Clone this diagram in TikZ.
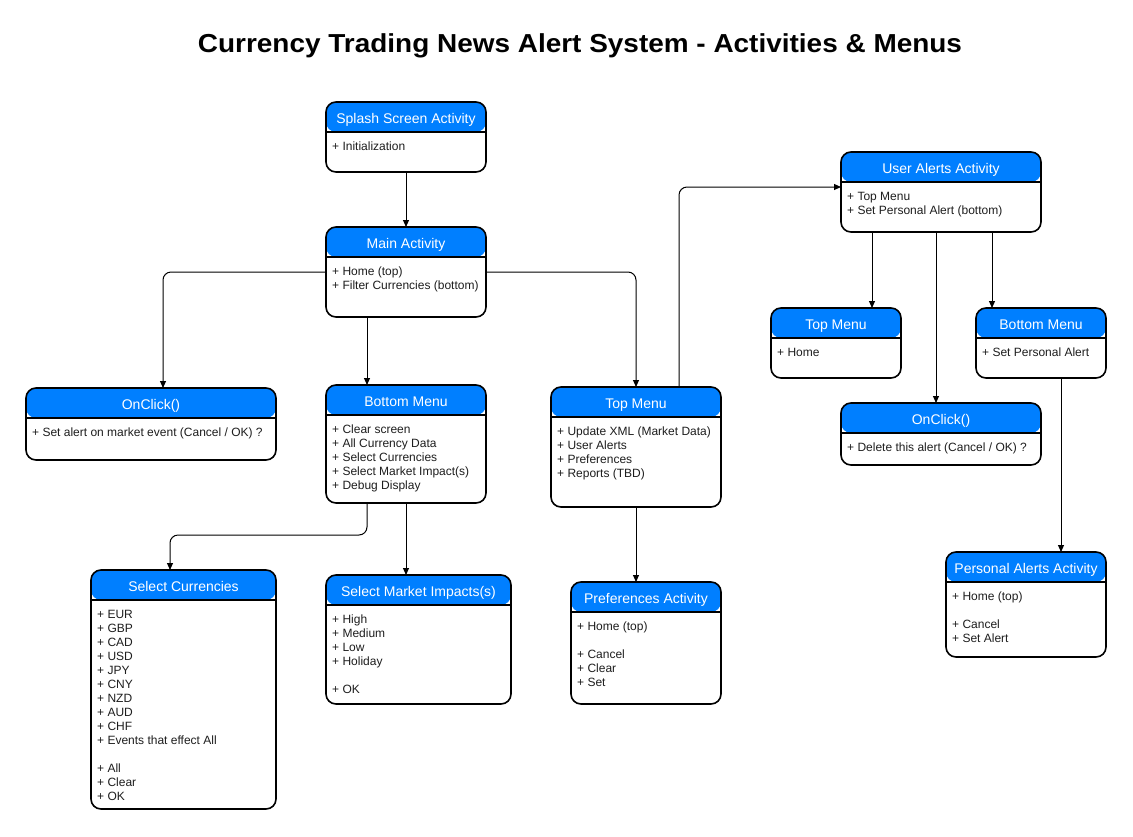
\documentclass[tikz,border=0pt]{standalone}
\usepackage{fontspec}
\usepackage{graphicx}
\setmainfont{Liberation Sans}
\usetikzlibrary{arrows.meta,calc}
\definecolor{hdrblue}{RGB}{0,127,255}
\definecolor{bodytext}{RGB}{30,30,30}
\tikzset{
  umlbox/.style={draw=black, line width=1.6pt, fill=white, rounded corners=10pt,
    inner sep=0pt, outer sep=0pt,
    path picture={
      \fill[hdrblue] (path picture bounding box.north west) rectangle ([yshift=-30pt]path picture bounding box.north east);
      \draw[line width=1.6pt] ([yshift=-30pt]path picture bounding box.north west) -- ([yshift=-30pt]path picture bounding box.north east);
    }},
  hdrtext/.style={text=white, font=\fontsize{14}{16}\selectfont, inner sep=0pt, anchor=base},
  bodytxt/.style={text=bodytext, font=\fontsize{12}{14}\selectfont, align=left, inner sep=0pt, anchor=north west},
  conn/.style={draw=black, line width=1pt, rounded corners=8pt, -{Triangle[length=7pt,width=6pt]}},
}
\newcommand\umlnode[7]{%
  \node[umlbox, minimum width={#4-#2}, minimum height={#5-#3}] (#1) at ({(#2+#4)/2},{(#3+#5)/2}) {};
  \node[hdrtext] (#1-h) at ({(#2+#4)/2},{#3+21}) {#6};
  \node[bodytxt] (#1-b) at ({#2+6},{#3+40}) {#7};
}
\begin{document}
\begin{tikzpicture}[x=1pt,y=-1pt]
\useasboundingbox (0,0) rectangle (1133,836);
\node[font=\fontsize{26}{30}\selectfont\bfseries, inner sep=0pt] (title) at (580,46) {\scalebox{1.075}[1]{Currency Trading News Alert System - Activities \& Menus}};

\umlnode{splash}{326}{102}{486}{172}{Splash Screen Activity}{+ Initialization}
\umlnode{main}{326}{227}{486}{317}{Main Activity}{+ Home (top)\\+ Filter Currencies (bottom)}
\umlnode{onclick}{26}{388}{276}{460}{OnClick()}{+ Set alert on market event (Cancel / OK) ?}
\umlnode{bmenu}{326}{385}{486}{503}{Bottom Menu}{+ Clear screen\\+ All Currency Data\\+ Select Currencies\\+ Select Market Impact(s)\\+ Debug Display}
\umlnode{tmenu}{551}{387}{721}{507}{Top Menu}{+ Update XML (Market Data)\\+ User Alerts\\+ Preferences\\+ Reports (TBD)}
\umlnode{selcur}{91}{570}{276}{809}{Select Currencies}{+ EUR\\+ GBP\\+ CAD\\+ USD\\+ JPY\\+ CNY\\+ NZD\\+ AUD\\+ CHF\\+ Events that effect All\\[14pt]+ All\\+ Clear\\+ OK}
\umlnode{selmkt}{326}{575}{511}{704}{Select Market Impacts(s)}{+ High\\+ Medium\\+ Low\\+ Holiday\\[14pt]+ OK}
\umlnode{prefs}{571}{582}{721}{704}{Preferences Activity}{+ Home (top)\\[14pt]+ Cancel\\+ Clear\\+ Set}
\umlnode{ualerts}{841}{152}{1041}{232}{User Alerts Activity}{+ Top Menu\\+ Set Personal Alert (bottom)}
\umlnode{tmenur}{771}{308}{901}{378}{Top Menu}{+ Home}
\umlnode{bmenur}{976}{308}{1106}{378}{Bottom Menu}{+ Set Personal Alert}
\umlnode{onclickr}{841}{403}{1041}{465}{OnClick()}{+ Delete this alert (Cancel / OK) ?}
\umlnode{palerts}{946}{552}{1106}{657}{Personal Alerts Activity}{+ Home (top)\\[14pt]+ Cancel\\+ Set Alert}

% connectors
\draw[conn] (splash.south) -- (main.north);
\draw[conn] (main.west) -| ([xshift=12pt]onclick.north);
\draw[conn] (main.east) -| (tmenu.north);
\draw[conn] ([xshift=-39pt]main.south) -- ([xshift=-39pt]main.south |- bmenu.north);
\coordinate (bmbend) at ($([xshift=-39pt]bmenu.south)+(0,32)$);
\draw[conn] ([xshift=-39pt]bmenu.south) -- (bmbend) -| ([xshift=-13.5pt]selcur.north);
\draw[conn] (bmenu.south) -- (bmenu.south |- selmkt.north);
\draw[conn] (tmenu.south) -- (tmenu.south |- prefs.north);
\draw[conn] ([xshift=43pt]tmenu.north) |- ([yshift=5pt]ualerts.west);
\draw[conn] ([xshift=-69pt]ualerts.south) -- ([xshift=-69pt]ualerts.south |- tmenur.north);
\draw[conn] ([xshift=-5pt]ualerts.south) -- ([xshift=-5pt]ualerts.south |- onclickr.north);
\draw[conn] ([xshift=51pt]ualerts.south) -- ([xshift=51pt]ualerts.south |- bmenur.north);
\draw[conn] ([xshift=20pt]bmenur.south) -- ([xshift=20pt]bmenur.south |- palerts.north);
\end{tikzpicture}
\end{document}
